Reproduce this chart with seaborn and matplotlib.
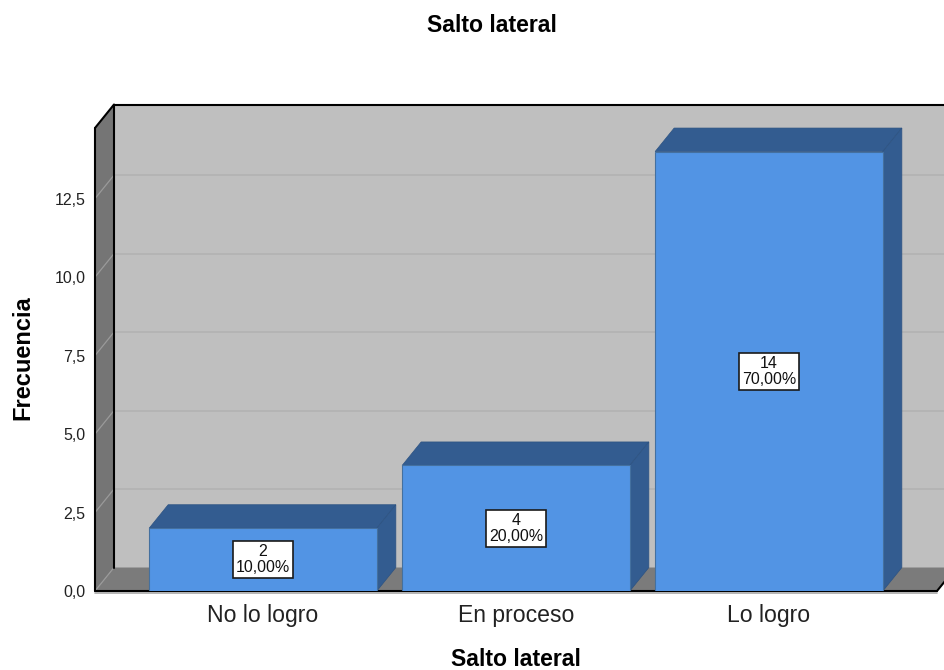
import matplotlib
matplotlib.use('Agg')
import matplotlib.pyplot as plt
import numpy as np
import pandas as pd
import seaborn as sns
from matplotlib.patches import Polygon

categories = ['No lo logro', 'En proceso', 'Lo logro']
counts = [2, 4, 14]
percents = ['10,00%', '20,00%', '70,00%']
y_ticks = [0, 2.5, 5, 7.5, 10, 12.5]
y_tick_labels = ['0,0', '2,5', '5,0', '7,5', '10,0', '12,5']

FRONT = '#5294e4'
DARK = '#335c90'
WALL = '#bfbfbf'
SIDE = '#757575'
FLOOR = '#7b7b7b'

# depth of the fake 3d box, in data units
DX = 19 / 253
DY = 23.5 / 31.4
XMIN, XMAX = -0.664, 2.664
YMAX = 14.75
BAR_W = 0.9


def face(ax, pts, color, z, edge='none', lw=0.0):
    ax.add_patch(Polygon(pts, closed=True, facecolor=color, edgecolor=edge,
                         linewidth=lw, zorder=z, clip_on=False))


def line(ax, xs, ys, color='black', lw=1.5, z=3):
    ax.plot(xs, ys, color=color, lw=lw, zorder=z, clip_on=False,
            solid_capstyle='round')


def draw_box(ax):
    # walls first, then grid on top
    face(ax, [(XMIN + DX, DY), (XMAX + DX, DY), (XMAX + DX, YMAX + DY), (XMIN + DX, YMAX + DY)], WALL, 1)
    face(ax, [(XMIN, 0), (XMIN + DX, DY), (XMIN + DX, YMAX + DY), (XMIN, YMAX)], SIDE, 1)
    face(ax, [(XMIN, 0), (XMAX, 0), (XMAX + DX, DY), (XMIN + DX, DY)], FLOOR, 1)

    for t in y_ticks:
        line(ax, [XMIN, XMIN + DX], [t, t + DY], color='#9a9a9a', lw=0.9, z=2)
        if t > 0:
            line(ax, [XMIN + DX, XMAX + DX], [t + DY, t + DY], color='#b3b3b3', lw=1.3, z=2)

    line(ax, [XMIN, XMIN], [0, YMAX])
    line(ax, [XMIN, XMIN + DX], [YMAX, YMAX + DY])
    line(ax, [XMIN + DX, XMAX + DX], [YMAX + DY, YMAX + DY])
    line(ax, [XMIN + DX, XMIN + DX], [DY, YMAX + DY])
    line(ax, [XMIN, XMAX], [0, 0])
    line(ax, [XMAX, XMAX + DX], [0, DY])
    line(ax, [XMIN, XMAX], [-0.06, -0.06], color='#a8a8a8', lw=1.2, z=3)


def draw_bars(ax):
    data = pd.DataFrame({'cat': categories, 'n': counts})
    sns.barplot(data=data, x='cat', y='n', ax=ax, color=FRONT, saturation=1,
                width=BAR_W, edgecolor='#44709f', linewidth=0.8, zorder=5)

    for i, n in enumerate(counts):
        x0 = i - BAR_W / 2
        x1 = i + BAR_W / 2
        face(ax, [(x0, n), (x1, n), (x1 + DX, n + DY), (x0 + DX, n + DY)], DARK, 4, '#2d5382', 0.5)
        face(ax, [(x1, 0), (x1 + DX, DY), (x1 + DX, n + DY), (x1, n)], DARK, 4, '#2d5382', 0.5)
        ax.text(i, n / 2, '%d\n%s' % (n, percents[i]), ha='center', va='center',
                fontsize=11.5, color='#111111', linespacing=1.08, zorder=7,
                bbox=dict(boxstyle='square,pad=0.2', facecolor='white',
                          edgecolor='#1a1a1a', linewidth=1.2))


def main():
    sns.set_theme(style='white')
    plt.rcParams['font.family'] = ['Liberation Sans', 'DejaVu Sans']

    fig = plt.figure(figsize=(9.44, 6.70), dpi=100)
    ax = fig.add_axes([95 / 944, 1 - 591 / 670, (937 - 95) / 944, (591 - 128) / 670])

    draw_box(ax)
    draw_bars(ax)

    ax.set_xlim(XMIN, XMAX)
    ax.set_ylim(0, YMAX)
    ax.set_yticks(y_ticks)
    ax.set_yticklabels(y_tick_labels, fontsize=11.5, color='#222222')
    ax.tick_params(axis='y', length=0, pad=7)
    ax.tick_params(axis='x', length=0, pad=9.5, labelsize=16.6, labelcolor='#222222')
    sns.despine(ax=ax, left=True, bottom=True)
    ax.set_xlabel('')
    ax.set_ylabel('')

    fig.text(492 / 944, 1 - 26 / 670, 'Salto lateral', ha='center', va='center',
             fontsize=16.6, fontweight='bold', color='black')
    fig.text(516 / 944, 1 - 659 / 670, 'Salto lateral', ha='center', va='center',
             fontsize=16.6, fontweight='bold', color='black')
    fig.text(23 / 944, 1 - 358 / 670, 'Frecuencia', ha='center', va='center',
             rotation=90, fontsize=17, fontweight='bold', color='black')

    fig.savefig('out.png', dpi=100)
    plt.close(fig)


if __name__ == '__main__':
    main()
